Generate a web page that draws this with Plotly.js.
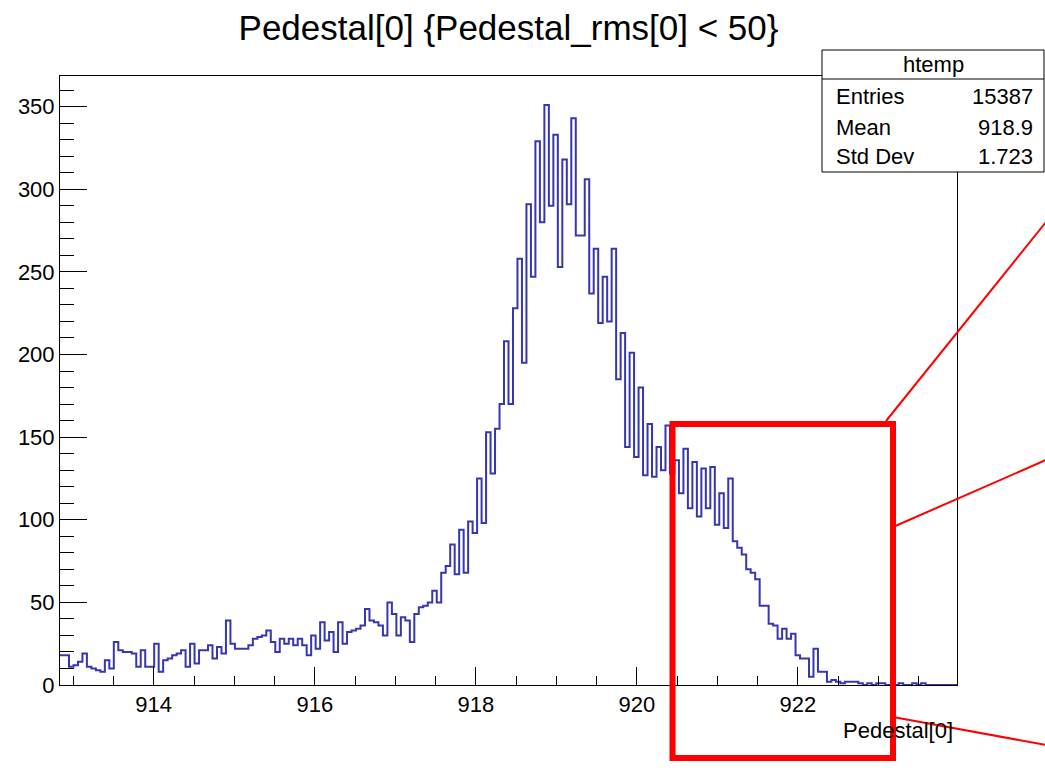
<!DOCTYPE html>
<html><head><meta charset="utf-8">
<script src="https://cdn.plot.ly/plotly-3.0.1.min.js"></script>
<style>html,body{margin:0;padding:0;background:#fff;} #chart{width:1045px;height:771px;}</style>
</head><body><div id="chart"></div>
<script>
// ---- data ----
const binLow = 912.836;
const binHigh = 923.975;
const nBins = 200;
const counts = [
 18,18,11,12,14,19,11,10,9,8,
 15,10,26,21,20,20,19,11,21,11,
 11,25,8,15,16,18,19,21,11,25,
 13,21,21,24,16,23,19,39,25,22,
 22,22,24,28,29,30,33,26,20,28,
 25,28,24,28,24,18,30,22,38,27,
 32,20,38,25,32,33,34,36,46,39,
 38,36,30,50,43,30,41,39,26,43,
 47,48,50,57,50,68,72,85,67,94,
 68,99,92,125,98,153,128,155,170,208,
 170,228,258,195,291,247,329,280,351,290,
 333,253,318,291,343,272,272,306,237,264,
 219,247,220,264,185,213,144,201,138,180,
 127,158,126,144,130,157,128,136,116,143,
 107,135,102,131,107,132,97,116,95,125,
 87,83,79,70,68,64,48,48,37,36,
 28,34,28,31,18,16,16,5,22,8,
 8,2,3,2,1,2,2,2,1,0,
 1,0,1,1,0,0,0,1,0,0,
 1,0,1,0,0,0,0,0,0,0
];
const histName = "htemp";
const statsLabels = ["Entries", "Mean", "Std Dev"];
const statsValues = ["15387", "918.9", "1.723"];
const titleText = "Pedestal[0] {Pedestal_rms[0] < 50}";
const xTitleText = "Pedestal[0]";

// ---- layout geometry (pixels) ----
const W = 1045, H = 771;
const frame = {l: 60, r: 957, t: 76, b: 685};
const px = x => (x - frame.l) / (frame.r - frame.l);
const py = y => (frame.b - y) / (frame.b - frame.t);

// step outline from bin edges
const bw = (binHigh - binLow) / nBins;
const xs = counts.map((c, i) => binLow + i * bw);
xs.push(binHigh);
const ys = counts.slice();
ys.push(counts[counts.length - 1]);
const yMax = 1.05 * Math.max(...counts);

const FONT = "Liberation Sans, Arial, Helvetica, sans-serif";
const histColor = "#3636b2";
const red = "#ff0000";

const trace = {
  type: "scatter", mode: "lines", x: xs, y: ys,
  line: {shape: "hv", color: histColor, width: 2},
  hoverinfo: "skip", showlegend: false
};

// stats box
const sb = {l: 822, r: 1044, t: 50, b: 172, sep: 79};
const rowY = [97, 127, 157];
const annotations = [
  {xref: "paper", yref: "paper", x: px((sb.l + sb.r) / 2), y: py(65), text: histName,
   showarrow: false, xanchor: "center", yanchor: "middle", font: {family: FONT, size: 22, color: "#000"}},
  {xref: "paper", yref: "paper", x: px(955), y: py(730), text: xTitleText,
   showarrow: false, xanchor: "right", yanchor: "middle", font: {family: FONT, size: 22, color: "#000"}}
];
statsLabels.forEach((lab, i) => {
  annotations.push({xref: "paper", yref: "paper", x: px(834), y: py(rowY[i]), text: lab,
    showarrow: false, xanchor: "left", yanchor: "middle", font: {family: FONT, size: 22, color: "#000"}});
  annotations.push({xref: "paper", yref: "paper", x: px(1035), y: py(rowY[i]), text: statsValues[i],
    showarrow: false, xanchor: "right", yanchor: "middle", font: {family: FONT, size: 22, color: "#000"}});
});

const shapes = [
  {type: "rect", xref: "paper", yref: "paper", x0: px(sb.l), x1: px(sb.r), y0: py(sb.b), y1: py(sb.t),
   line: {color: "#000", width: 1}, fillcolor: "#fff", layer: "above"},
  {type: "line", xref: "paper", yref: "paper", x0: px(sb.l), x1: px(sb.r), y0: py(sb.sep), y1: py(sb.sep),
   line: {color: "#000", width: 1}, layer: "above"},
  // red callout
  {type: "rect", xref: "paper", yref: "paper", x0: px(672.5), x1: px(893), y0: py(758), y1: py(424),
   line: {color: red, width: 6}, layer: "above"},
  {type: "line", xref: "paper", yref: "paper", x0: px(886), y0: py(421), x1: px(1046), y1: py(222),
   line: {color: red, width: 2}, layer: "above"},
  {type: "line", xref: "paper", yref: "paper", x0: px(893), y0: py(527), x1: px(1046), y1: py(460),
   line: {color: red, width: 2}, layer: "above"},
  {type: "line", xref: "paper", yref: "paper", x0: px(893), y0: py(717), x1: px(1046), y1: py(745),
   line: {color: red, width: 2}, layer: "above"}
];

const layout = {
  width: W, height: H,
  margin: {l: frame.l, r: W - frame.r, t: frame.t, b: H - frame.b, pad: 0},
  paper_bgcolor: "#fff", plot_bgcolor: "#fff",
  font: {family: FONT, color: "#000"},
  title: {text: titleText, font: {family: FONT, size: 35, color: "#000"},
          xref: "paper", x: 0.5, xanchor: "center", yref: "container", y: 1 - 28 / H, yanchor: "middle"},
  xaxis: {
    range: [binLow, binHigh], tickmode: "linear", tick0: 914, dtick: 2,
    ticks: "inside", ticklen: 18, tickwidth: 1, tickcolor: "#000",
    minor: {dtick: 0.5, tick0: 914, ticks: "inside", ticklen: 9, tickwidth: 1, tickcolor: "#000", showgrid: false},
    showgrid: false, zeroline: false, showline: true, linecolor: "#000", linewidth: 1, mirror: true,
    tickfont: {family: FONT, size: 22, color: "#000"}
  },
  yaxis: {
    range: [0, yMax], tickmode: "linear", tick0: 0, dtick: 50,
    ticks: "inside", ticklen: 27, tickwidth: 1, tickcolor: "#000",
    minor: {dtick: 10, tick0: 0, ticks: "inside", ticklen: 13.5, tickwidth: 1, tickcolor: "#000", showgrid: false},
    showgrid: false, zeroline: false, showline: true, linecolor: "#000", linewidth: 1, mirror: true,
    tickfont: {family: FONT, size: 22, color: "#000"}
  },
  shapes: shapes,
  annotations: annotations,
  showlegend: false
};

Plotly.newPlot("chart", [trace], layout, {displayModeBar: false, staticPlot: true});
</script>
</body></html>
